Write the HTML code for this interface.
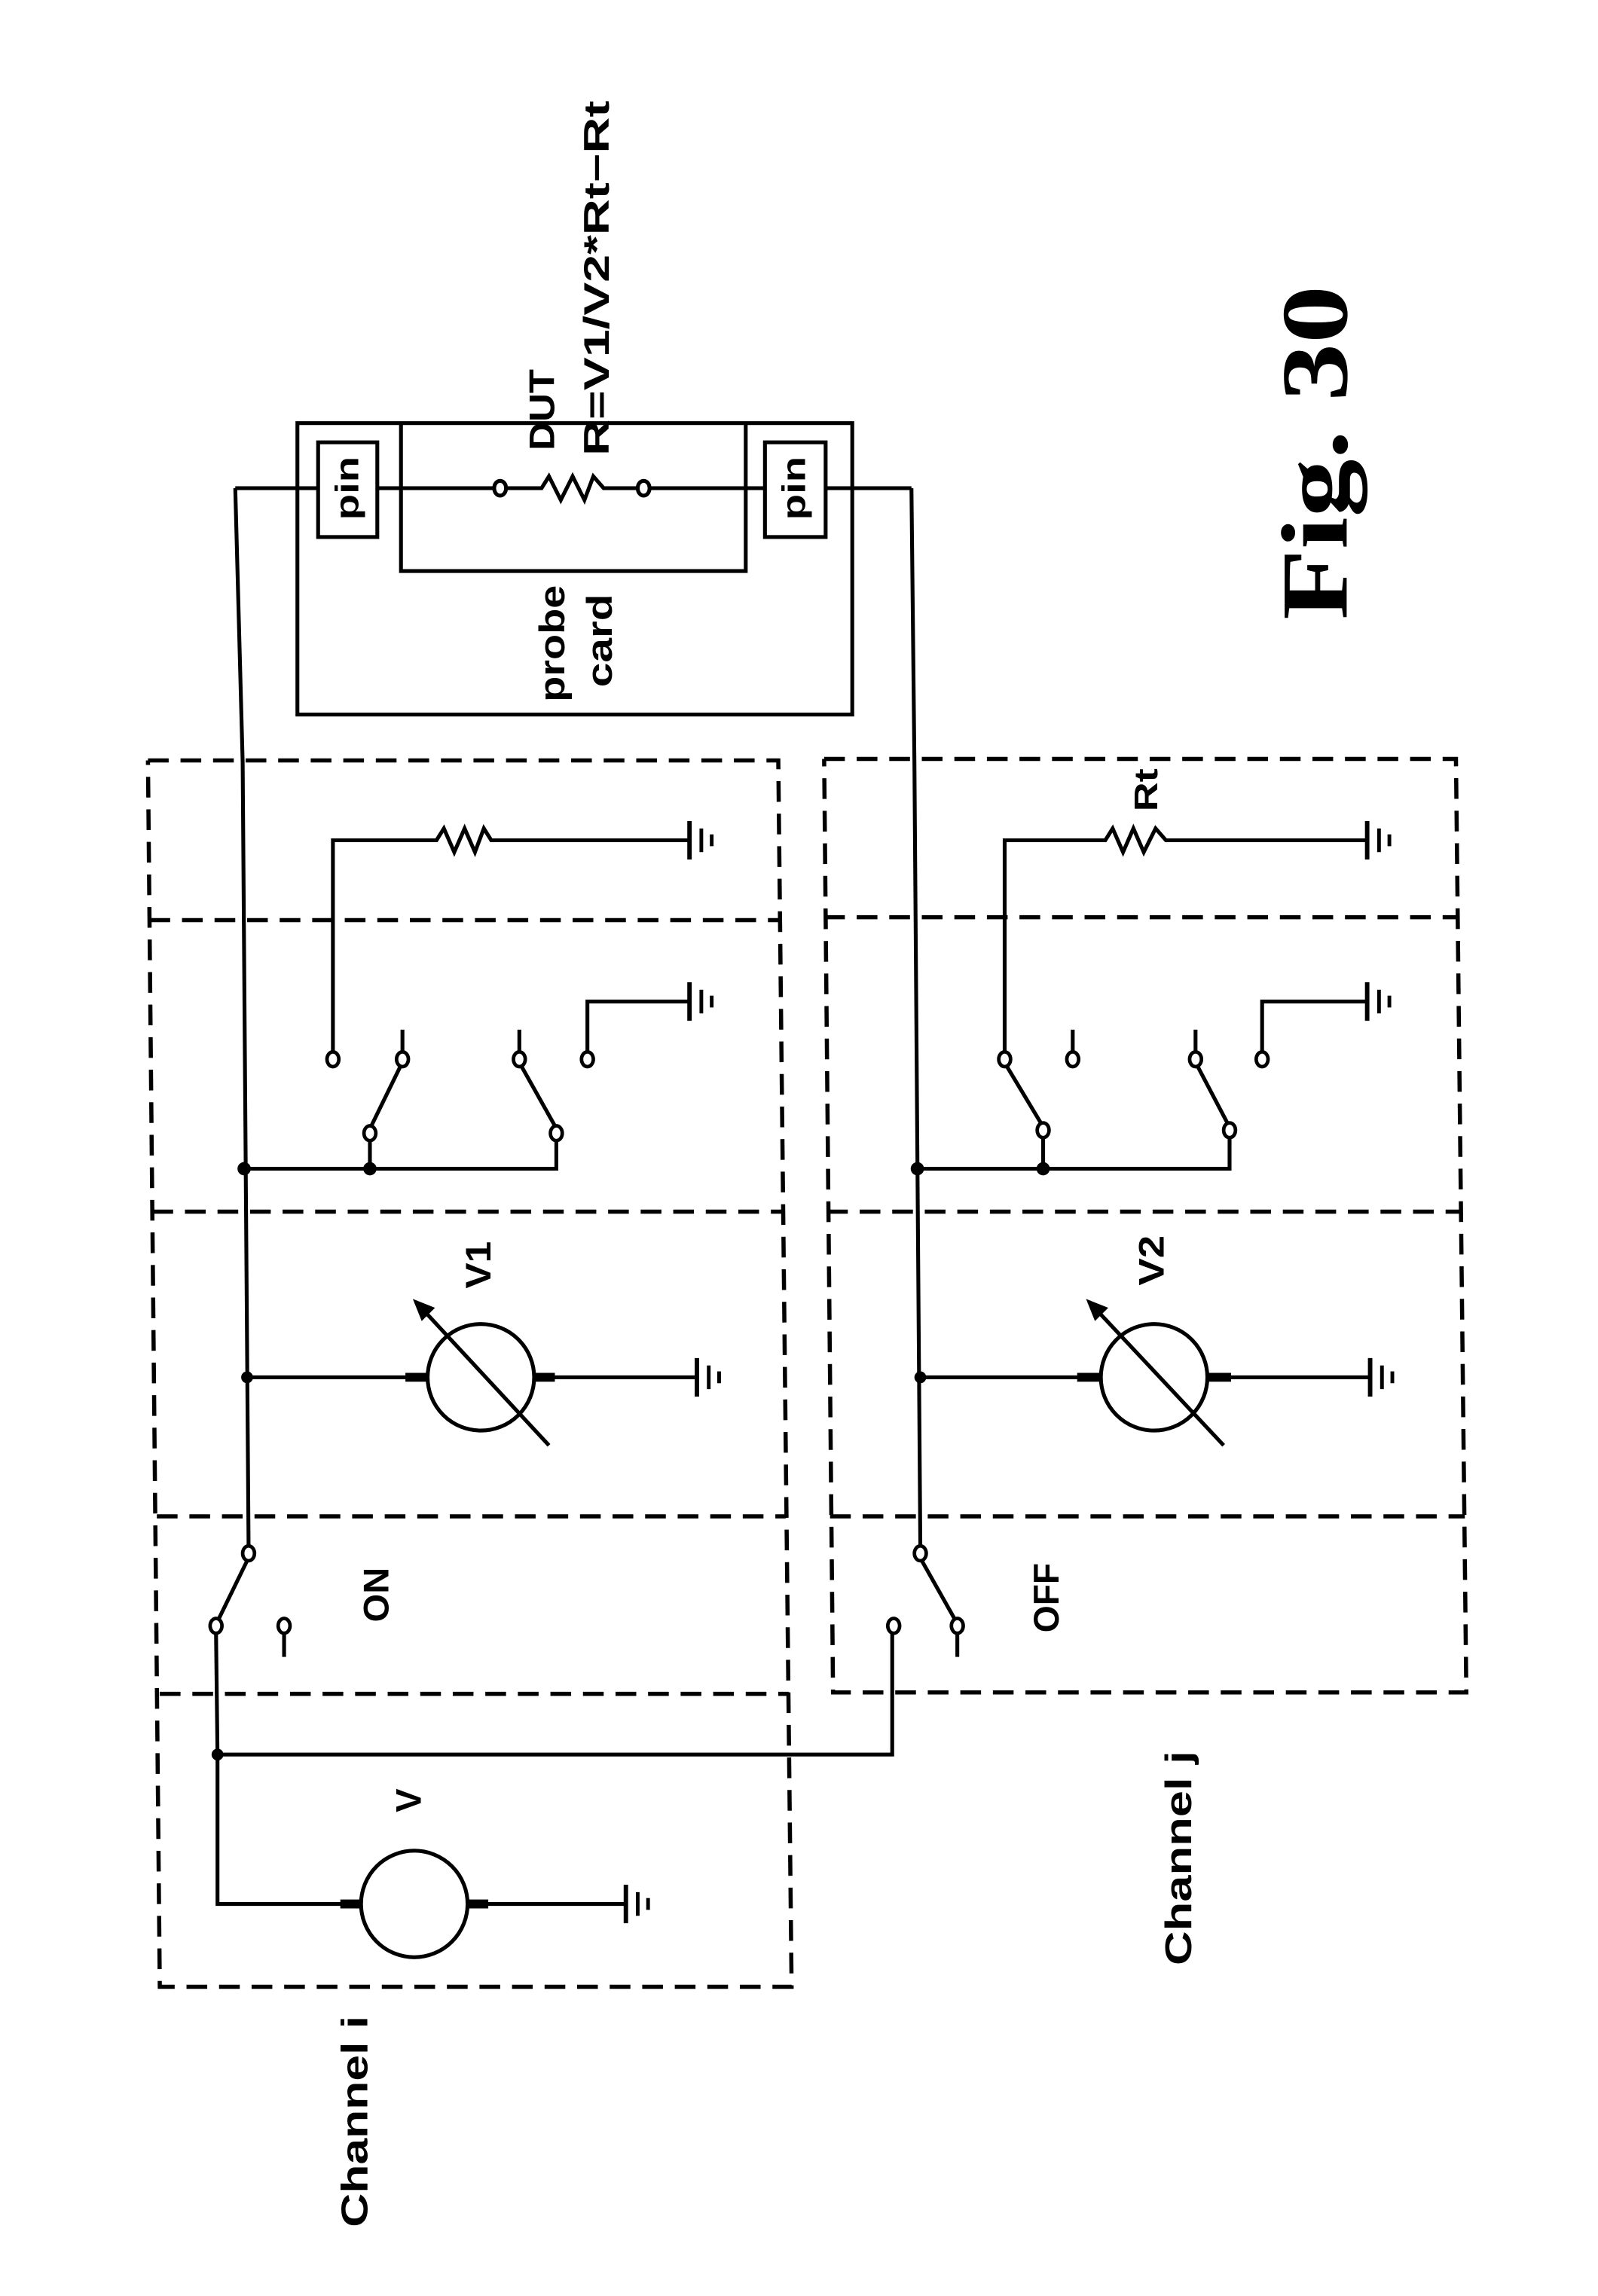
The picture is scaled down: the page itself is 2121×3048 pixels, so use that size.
<!DOCTYPE html>
<html><head><meta charset="utf-8"><style>
html,body{margin:0;padding:0;background:#fff}
svg{display:block}
text{font-family:"Liberation Sans",sans-serif;font-weight:bold;fill:#000}
</style></head><body>
<svg width="2121" height="3048" viewBox="0 0 1080 1552" preserveAspectRatio="none" xmlns="http://www.w3.org/2000/svg">
<defs>
<g id="gnd"><line x1="0" y1="-13" x2="0" y2="13" stroke="#000" stroke-width="3"/><line x1="8" y1="-8" x2="8" y2="8" stroke="#000" stroke-width="2.5"/><line x1="15" y1="-4" x2="15" y2="4" stroke="#000" stroke-width="2.5"/></g>
</defs>
<g fill="none" stroke="#000" stroke-width="2.8" stroke-dasharray="14,8">
<polyline points="100,514 526,514 535,1343 108,1343 100,514"/>
<line x1="101" y1="622" x2="527" y2="622"/>
<line x1="103" y1="819" x2="529" y2="819"/>
<line x1="106" y1="1025" x2="531" y2="1025"/>
<line x1="108" y1="1145" x2="533" y2="1145"/>
<polyline points="557,513 984,513 991,1144 563,1144 557,513"/>
<line x1="557" y1="620" x2="985" y2="620"/>
<line x1="559" y1="819" x2="987" y2="819"/>
<line x1="561" y1="1025" x2="990" y2="1025"/>
</g>
<g fill="none" stroke="#000" stroke-width="2.6">
<rect x="201" y="286" width="375" height="197"/>
<polyline points="271,286 271,386 504,386 504,286"/>
<rect x="215" y="299" width="40" height="64" fill="#fff"/>
<rect x="517" y="299" width="41" height="64" fill="#fff"/>
<line x1="159" y1="330" x2="215" y2="330"/><line x1="255" y1="330" x2="334" y2="330"/>
<polyline points="342,330 366,330 371,322 379,338 387,322 395,338 401,322 408,330 431,330"/>
<line x1="439" y1="330" x2="517" y2="330"/><line x1="558" y1="330" x2="616" y2="330"/>
<ellipse cx="338" cy="330" rx="4" ry="5" fill="#fff"/>
<ellipse cx="435" cy="330" rx="4" ry="5" fill="#fff"/>
<polyline points="159,330 164,515 168,1045"/>
<polyline points="616,330 618,515 622,1045"/>
<polyline points="225,711 225,568 295,568 300,560 307,576 314,560 321,576 327,560 332,568 466,568"/>
<use href="#gnd" x="466" y="568"/>
<polyline points="165,790 376,790 376,770"/>
<line x1="250" y1="790" x2="250" y2="770"/>
<line x1="251" y1="761" x2="271" y2="720"/>
<line x1="375" y1="761" x2="352" y2="720"/>
<line x1="272" y1="711" x2="272" y2="696"/>
<line x1="351" y1="711" x2="351" y2="696"/>
<polyline points="397,711 397,677 466,677"/>
<use href="#gnd" x="466" y="677"/>
<polyline points="679,711 679,568 747,568 752,560 759,576 766,560 773,576 781,560 788,568 924,568"/>
<use href="#gnd" x="924" y="568"/>
<polyline points="620,790 831,790 831,769"/>
<line x1="705" y1="790" x2="705" y2="769"/>
<line x1="704" y1="760" x2="680" y2="720"/>
<line x1="830" y1="760" x2="809" y2="720"/>
<line x1="725" y1="711" x2="725" y2="696"/>
<line x1="808" y1="711" x2="808" y2="696"/>
<polyline points="853,711 853,677 924,677"/>
<use href="#gnd" x="924" y="677"/>
<line x1="166" y1="931" x2="276" y2="931"/>
<circle cx="325" cy="931" r="36"/>
<line x1="361" y1="931" x2="471" y2="931"/>
<use href="#gnd" x="471" y="931"/>
<line x1="371" y1="977" x2="281" y2="880"/>
<line x1="621" y1="931" x2="730" y2="931"/>
<circle cx="780" cy="931" r="36"/>
<line x1="816" y1="931" x2="926" y2="931"/>
<use href="#gnd" x="926" y="931"/>
<line x1="827" y1="977" x2="736" y2="880"/>
<line x1="167" y1="1055" x2="148" y2="1094"/>
<line x1="192" y1="1104" x2="192" y2="1120"/>
<polyline points="146,1104 147,1186 603,1186 603,1104"/>
<polyline points="147,1186 147,1287 232,1287"/>
<circle cx="280" cy="1287" r="36"/>
<line x1="316" y1="1287" x2="423" y2="1287"/>
<use href="#gnd" x="423" y="1287"/>
<line x1="623" y1="1055" x2="645" y2="1094"/>
<line x1="647" y1="1104" x2="647" y2="1120"/>
</g>
<g stroke="#000" stroke-width="6">
<line x1="274" y1="931" x2="289" y2="931"/><line x1="360" y1="931" x2="375" y2="931"/>
<line x1="728" y1="931" x2="744" y2="931"/><line x1="816" y1="931" x2="832" y2="931"/>
<line x1="230" y1="1287" x2="245" y2="1287"/><line x1="315" y1="1287" x2="330" y2="1287"/>
</g>
<polygon points="279,878 294,884 285,893" fill="#000"/>
<polygon points="734,878 749,884 740,893" fill="#000"/>
<g fill="#fff" stroke="#000" stroke-width="2.4">
<ellipse cx="225" cy="716" rx="4" ry="5"/><ellipse cx="272" cy="716" rx="4" ry="5"/>
<ellipse cx="351" cy="716" rx="4" ry="5"/><ellipse cx="397" cy="716" rx="4" ry="5"/>
<ellipse cx="250" cy="766" rx="4" ry="5"/><ellipse cx="376" cy="766" rx="4" ry="5"/>
<ellipse cx="679" cy="716" rx="4" ry="5"/><ellipse cx="725" cy="716" rx="4" ry="5"/>
<ellipse cx="808" cy="716" rx="4" ry="5"/><ellipse cx="853" cy="716" rx="4" ry="5"/>
<ellipse cx="705" cy="764" rx="4" ry="5"/><ellipse cx="831" cy="764" rx="4" ry="5"/>
<ellipse cx="168" cy="1050" rx="4" ry="5"/><ellipse cx="146" cy="1099" rx="4" ry="5"/><ellipse cx="192" cy="1099" rx="4" ry="5"/>
<ellipse cx="622" cy="1050" rx="4" ry="5"/><ellipse cx="647" cy="1099" rx="4" ry="5"/><ellipse cx="604" cy="1099" rx="4" ry="5"/>
</g>
<g fill="#000">
<circle cx="165" cy="790" r="4.5"/><circle cx="250" cy="790" r="4.5"/>
<circle cx="620" cy="790" r="4.5"/><circle cx="705" cy="790" r="4.5"/>
<circle cx="167" cy="931" r="4"/><circle cx="622" cy="931" r="4"/>
<circle cx="147" cy="1186" r="4"/>
</g>
<g dominant-baseline="central" text-anchor="middle">
<text x="240" y="1434" font-size="25" transform="rotate(-90 240 1434)" textLength="143" lengthAdjust="spacingAndGlyphs">Channel i</text>
<text x="797" y="1256" font-size="25" transform="rotate(-90 797 1256)" textLength="145" lengthAdjust="spacingAndGlyphs">Channel j</text>
<text x="254" y="1078" font-size="24" transform="rotate(-90 254 1078)" textLength="37" lengthAdjust="spacingAndGlyphs">ON</text>
<text x="707" y="1080" font-size="24" transform="rotate(-90 707 1080)" textLength="47" lengthAdjust="spacingAndGlyphs">OFF</text>
<text x="276" y="1217" font-size="24" transform="rotate(-90 276 1217)">V</text>
<text x="323" y="855" font-size="24" transform="rotate(-90 323 855)" textLength="32" lengthAdjust="spacingAndGlyphs">V1</text>
<text x="778" y="852" font-size="24" transform="rotate(-90 778 852)" textLength="34" lengthAdjust="spacingAndGlyphs">V2</text>
<text x="775" y="534" font-size="22" transform="rotate(-90 775 534)" textLength="29" lengthAdjust="spacingAndGlyphs">Rt</text>
<text x="366" y="277" font-size="24" transform="rotate(-90 366 277)" textLength="55" lengthAdjust="spacingAndGlyphs">DUT</text>
<text x="403" y="188" font-size="24" transform="rotate(-90 403 188)" textLength="240" lengthAdjust="spacingAndGlyphs">R=V1/V2*Rt−Rt</text>
<text x="373" y="435" font-size="24" transform="rotate(-90 373 435)" textLength="79" lengthAdjust="spacingAndGlyphs">probe</text>
<text x="405" y="433" font-size="24" transform="rotate(-90 405 433)" textLength="63" lengthAdjust="spacingAndGlyphs">card</text>
<text x="235" y="330" font-size="22" transform="rotate(-90 235 330)" textLength="43" lengthAdjust="spacingAndGlyphs">pin</text>
<text x="537" y="330" font-size="22" transform="rotate(-90 537 330)" textLength="43" lengthAdjust="spacingAndGlyphs">pin</text>
<text x="889" y="306" font-size="64" style="font-family:'Liberation Serif',serif" transform="rotate(-90 889 306)" textLength="226" lengthAdjust="spacingAndGlyphs">Fig. 30</text>
</g>
</svg>
</body></html>
